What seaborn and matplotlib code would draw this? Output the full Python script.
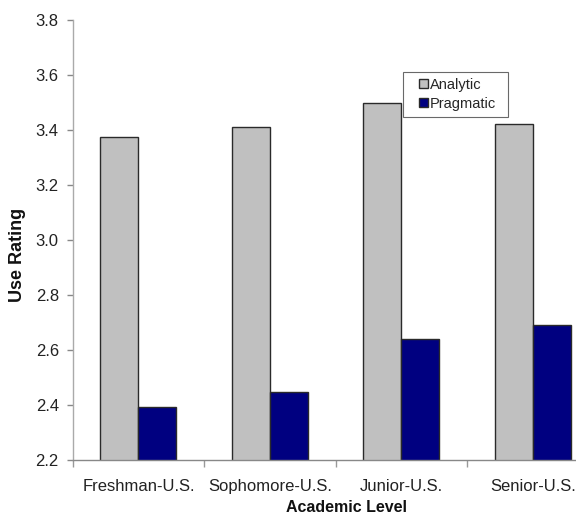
import pandas as pd
import matplotlib.pyplot as plt
import seaborn as sns
from matplotlib.patches import Rectangle
from matplotlib.legend_handler import HandlerPatch

# Data
levels = ["Freshman-U.S.", "Sophomore-U.S.", "Junior-U.S.", "Senior-U.S."]
analytic = [3.373, 3.412, 3.50, 3.422]
pragmatic = [2.394, 2.446, 2.64, 2.69]
series = ["Analytic", "Pragmatic"]
colors = {"Analytic": "#c0c0c0", "Pragmatic": "#000080"}
y_ticks = [2.2, 2.4, 2.6, 2.8, 3.0, 3.2, 3.4, 3.6, 3.8]

df = pd.DataFrame({
    "Level": levels * 2,
    "Type": ["Analytic"] * len(levels) + ["Pragmatic"] * len(levels),
    "Rating": analytic + pragmatic,
})

sns.set_style("white")
plt.rcParams["font.family"] = ["Liberation Sans", "DejaVu Sans"]

fig = plt.figure(figsize=(5.76, 5.17), dpi=100)
ax = fig.add_axes([0.1262, 0.1103, 0.913, 0.851])

sns.barplot(data=df, x="Level", y="Rating", hue="Type", hue_order=series,
            palette=colors, width=0.578, edgecolor="#2a2a2a", linewidth=1.0,
            saturation=1, ax=ax)

ax.set_ylim(2.2, 3.8)
ax.set_xlim(-0.5, 3.5)
ax.set_yticks(y_ticks)
ax.set_yticklabels([f"{v:.1f}" for v in y_ticks])

# tick marks between categories on the x axis
ax.set_xticks([-0.5, 0.5, 1.5, 2.5, 3.5], minor=True)
ax.tick_params(axis="x", which="major", length=0, pad=14, labelsize=12, labelcolor="#222222")
ax.tick_params(axis="x", which="minor", length=5, width=1, color="#999999", direction="out", bottom=True)
ax.tick_params(axis="y", length=4, width=1, color="#888888", direction="out", left=True,
               pad=6, labelsize=12, labelcolor="#222222")

for s in ["top", "right"]:
    ax.spines[s].set_visible(False)
ax.spines["left"].set_color("#aaaaaa")
ax.spines["bottom"].set_color("#888888")
ax.spines["left"].set_linewidth(1)
ax.spines["bottom"].set_linewidth(1)

ax.set_xlabel("Academic Level", fontsize=11.5, fontweight="bold", color="#111111")
ax.set_ylabel("Use Rating", fontsize=13, fontweight="bold", color="#111111")
ax.xaxis.set_label_coords(0.52, -0.091)
ax.yaxis.set_label_coords(-0.088, 0.466)


# small square swatch drawn at the right end of the handle box
def right_square(legend, orig_handle, xdescent, ydescent, width, height, fontsize):
    s = height * 0.85
    return Rectangle((width - s - xdescent, -ydescent + (height - s) / 2), s, s)


handles, labels = ax.get_legend_handles_labels()
leg = ax.legend(handles, labels, loc="upper left", bbox_to_anchor=(0.628, 0.882, 0.2, 0),
                mode="expand", fontsize=10.5, frameon=True, fancybox=False,
                handlelength=1.3, handleheight=0.7, handletextpad=0.15, labelspacing=0.35,
                borderpad=0.4, borderaxespad=0,
                handler_map={Rectangle: HandlerPatch(patch_func=right_square)})
leg.get_frame().set_edgecolor("#444444")
leg.get_frame().set_linewidth(0.8)

fig.savefig("out.png", dpi=100)
